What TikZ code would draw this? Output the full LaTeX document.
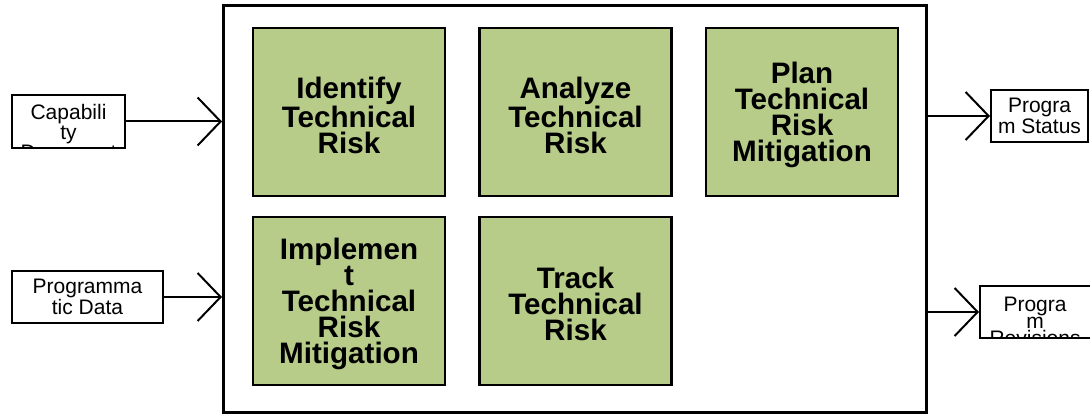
\documentclass[tikz,border=0pt]{standalone}
\usepackage{fontspec}
\setmainfont{Liberation Sans}
\usetikzlibrary{arrows.meta}
\definecolor{ink}{HTML}{000000}
\definecolor{taskc}{HTML}{B8CC8A}

\tikzset{
  task/.style={draw=ink, fill=taskc, line width=1.25pt, minimum width=96pt,
    minimum height=84pt, inner sep=0},
  tasktext/.style={align=center, inner sep=0, text=ink,
    font=\fontsize{14.8}{13}\selectfont\bfseries},
  docbox/.style={draw=ink, line width=1pt, fill=none},
  doctext/.style={align=center, inner sep=0, text=ink,
    font=\fontsize{10.5}{8.5}\selectfont},
  flow/.style={draw=ink, line width=1pt,
    -{Straight Barb[length=11.5pt, width=24pt]}}
}

\begin{document}
\begin{tikzpicture}[x=0.5pt, y=-0.5pt]

\clip (0,0) rectangle (1090,415);
\fill[white] (0,0) rectangle (1090,415);

% the process frame
\node[draw=ink, line width=1.5pt, minimum width=351.25pt,
      minimum height=203.75pt, inner sep=0] (frame) at (574.75,209.25) {};

\foreach \nm/\xx/\yy/\txt in {%
  identify/349/112/{Identify\\Technical\\Risk},
  analyze/575.5/112/{Analyze\\Technical\\Risk},
  plan/802/112/{Plan\\Technical\\Risk\\Mitigation},
  implement/349/301/{Implemen\\t\\Technical\\Risk\\Mitigation},
  track/575.5/301/{Track\\Technical\\Risk}%
}{
  \node[task] (\nm) at (\xx,\yy) {};
  \node[tasktext] (\nm-txt) at ([yshift=-1.7pt]\nm.center) {\txt};
}

% inputs
\node[docbox, minimum width=56.5pt, minimum height=26.5pt, inner sep=0]
  (capdoc) at (68.5,121.5) {};
\begin{scope}
  \clip (capdoc.south west) rectangle (capdoc.north east);
  \node[doctext, anchor=north] (captext) at ([yshift=-4.8pt]capdoc.north)
    {Capabili\\ty\\Document};
\end{scope}
\node[docbox, minimum width=56.5pt, minimum height=26.5pt, inner sep=0]
  at (capdoc) {};

\node[docbox, doctext, minimum width=75.5pt, minimum height=26pt]
  (progdata) at (87.5,297) {Programma\\tic Data};

% outputs
\node[docbox, doctext, minimum width=48.5pt, minimum height=26pt]
  (status) at (1039.5,116) {Progra\\m Status};

\node[docbox, minimum width=60pt, minimum height=26pt, inner sep=0,
      anchor=west] (revs) at (979,312) {};
\begin{scope}
  \clip (revs.south west) rectangle (revs.north east);
  \node[doctext, anchor=north] (revtext) at (1035,297)
    {Progra\\m\\Revisions};
\end{scope}
\node[docbox, minimum width=60pt, minimum height=26pt, inner sep=0,
      anchor=west] at (979,312) {};

\draw[flow] (capdoc.east) -- (capdoc.east -| frame.west);
\draw[flow] (progdata.east) -- (progdata.east -| frame.west);
\draw[flow] (status.west -| frame.east) -- (status.west);
\draw[flow] (revs.west -| frame.east) -- (revs.west);

\end{tikzpicture}
\end{document}
